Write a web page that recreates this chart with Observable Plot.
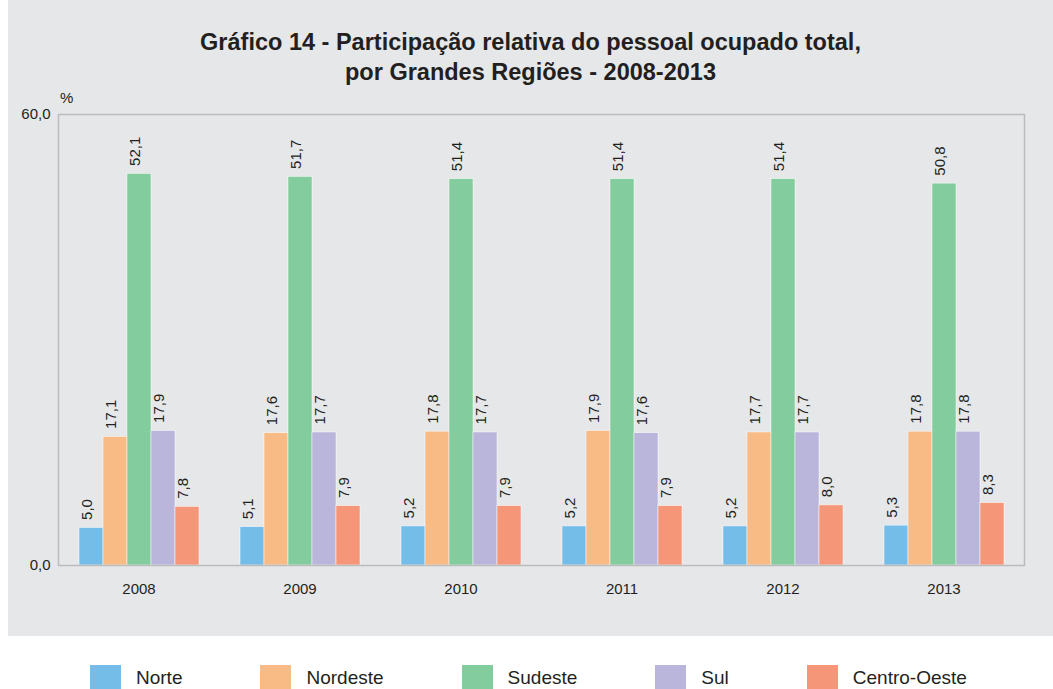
<!DOCTYPE html>
<html>
<head>
<meta charset="utf-8">
<script src="https://cdn.jsdelivr.net/npm/d3@7"></script>
<script src="https://cdn.jsdelivr.net/npm/@observablehq/plot@0.6"></script>
<style>
  body { margin: 0; background: #ffffff; }
  #wrap { position: relative; width: 1053px; height: 689px; overflow: hidden; font-family: "Liberation Sans", Arial, sans-serif; color: #231f20; }
  #panel { position: absolute; left: 8px; top: 0; width: 1045px; height: 636px; background: #e6e7e9; }
  #title { position: absolute; left: 8px; width: 1045px; top: 27px; text-align: center; font-family: "Liberation Sans", Arial, sans-serif; font-weight: bold; font-size: 23.5px; line-height: 30px; color: #231f20; }
  #pct { position: absolute; left: 60px; top: 90px; font-size: 15px; line-height: 15px; }
  #chart { position: absolute; left: 0; top: 0; }
  #legend { position: absolute; left: 90px; top: 665px; display: flex; gap: 78px; font-size: 19px; }
  .item { display: flex; align-items: flex-start; }
  .sw { width: 31px; height: 24px; margin-right: 15px; }
  .lb { line-height: 19px; margin-top: 3px; white-space: nowrap; }
</style>
</head>
<body>
<div id="wrap">
  <div id="panel"></div>
  <div id="title">Gráfico 14 - Participação relativa do pessoal ocupado total,<br>por Grandes Regiões - 2008-2013</div>
  <div id="chart"></div>
  <div id="pct">%</div>
  <div id="legend"></div>
</div>
<script>
const years = ["2008", "2009", "2010", "2011", "2012", "2013"];
const regions = ["Norte", "Nordeste", "Sudeste", "Sul", "Centro-Oeste"];
const norte = [5.0, 5.1, 5.2, 5.2, 5.2, 5.3];
const nordeste = [17.1, 17.6, 17.8, 17.9, 17.7, 17.8];
const sudeste = [52.1, 51.7, 51.4, 51.4, 51.4, 50.8];
const sul = [17.9, 17.7, 17.7, 17.6, 17.7, 17.8];
const centroOeste = [7.8, 7.9, 7.9, 7.9, 8.0, 8.3];
const colors = ["#74bde8", "#f9bb85", "#82cc9d", "#bab5da", "#f59679"];
const yTicks = [0, 60];

const series = [norte, nordeste, sudeste, sul, centroOeste];
const data = years.flatMap((yr, i) => regions.map((r, j) => ({year: yr, region: r, value: series[j][i]})));
const fmt = v => v.toFixed(1).replace(".", ",");

const plot = Plot.plot({
  width: 1053,
  height: 636,
  marginLeft: 57,
  marginRight: 29,
  marginTop: 114,
  marginBottom: 71,
  style: {background: "transparent", fontFamily: "'Liberation Sans', Arial, sans-serif", fontSize: "15px", color: "#231f20"},
  fx: {domain: years, padding: 0, label: null, axis: "bottom", tickSize: 0, tickPadding: 18},
  x: {domain: regions, paddingInner: 0, paddingOuter: 0.761, axis: null},
  y: {domain: [0, 60], ticks: yTicks, tickFormat: fmt, tickSize: 0, tickPadding: 8, label: null},
  color: {domain: regions, range: colors},
  marks: [
    Plot.barY(data, {fx: "year", x: "region", y: "value", fill: "region", stroke: "#ffffff", strokeWidth: 0.7, strokeOpacity: 0.7}),
    Plot.text(data, {fx: "year", x: "region", y: "value", text: d => fmt(d.value), rotate: -90, textAnchor: "start", lineAnchor: "bottom", dy: -8, fontSize: 15, fill: "#231f20"}),
    Plot.frame({facet: "super", stroke: "#bcbcbc", strokeWidth: 1.5, strokeOpacity: 1})
  ]
});
document.getElementById("chart").appendChild(plot);

const color = plot.scale("color");
const legend = document.getElementById("legend");
regions.forEach((r, j) => {
  const item = document.createElement("div");
  item.className = "item";
  item.innerHTML = `<div class="sw" style="background:${color.range[j]}"></div><div class="lb">${r}</div>`;
  legend.appendChild(item);
});
</script>
</body>
</html>
